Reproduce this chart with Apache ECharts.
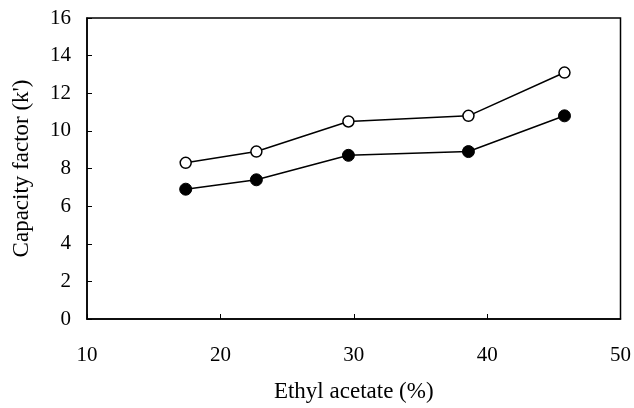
<!DOCTYPE html>
<html><head><meta charset="utf-8">
<script src="https://cdn.jsdelivr.net/npm/echarts@6/dist/echarts.min.js"></script>
<style>html,body{margin:0;padding:0;background:#fff}#c{width:634px;height:408px}</style>
</head><body><div id="c"></div>
<script>
const ethylAcetate = [17.4, 22.7, 29.6, 38.6, 45.8];
const kOpen = [8.3, 8.9, 10.5, 10.8, 13.1];
const kFilled = [6.9, 7.4, 8.7, 8.9, 10.8];
const xTicks = [10, 20, 30, 40, 50];
const yTicks = [0, 2, 4, 6, 8, 10, 12, 14, 16];

const font = 'Liberation Serif';
const chart = echarts.init(document.getElementById('c'), null, {renderer: 'canvas'});
const pair = (xs, ys) => xs.map((x, i) => [x, ys[i]]);
chart.setOption({
  animation: false,
  grid: {left: 87, right: 12, top: 18, bottom: 83, show: true, borderColor: '#000', borderWidth: 1.5, backgroundColor: 'transparent'},
  xAxis: {
    type: 'value', min: xTicks[0], max: xTicks[xTicks.length - 1], interval: 10,
    name: 'Ethyl acetate (%)', nameLocation: 'middle', nameGap: 61,
    nameTextStyle: {fontFamily: font, fontSize: 23, color: '#000'},
    axisLine: {show: true, lineStyle: {color: '#000', width: 1.5}},
    axisTick: {show: true, inside: true, length: 5, lineStyle: {color: '#000'}},
    axisLabel: {fontFamily: font, fontSize: 21, color: '#000', margin: 26},
    splitLine: {show: false}
  },
  yAxis: {
    type: 'value', min: yTicks[0], max: yTicks[yTicks.length - 1], interval: 2,
    name: "Capacity factor (k')", nameLocation: 'middle', nameGap: 54,
    nameTextStyle: {fontFamily: font, fontSize: 23, color: '#000'},
    axisLine: {show: true, lineStyle: {color: '#000', width: 1.5}},
    axisTick: {show: true, inside: true, length: 5, lineStyle: {color: '#000'}},
    axisLabel: {fontFamily: font, fontSize: 21, color: '#000', margin: 16},
    splitLine: {show: false}
  },
  series: [
    {type: 'line', data: pair(ethylAcetate, kOpen), symbol: 'circle', symbolSize: 11,
     lineStyle: {color: '#000', width: 1.5},
     itemStyle: {color: '#fff', borderColor: '#000', borderWidth: 1.5}},
    {type: 'line', data: pair(ethylAcetate, kFilled), symbol: 'circle', symbolSize: 12,
     lineStyle: {color: '#000', width: 1.5},
     itemStyle: {color: '#000', borderColor: '#000', borderWidth: 1}}
  ]
});
</script></body></html>
